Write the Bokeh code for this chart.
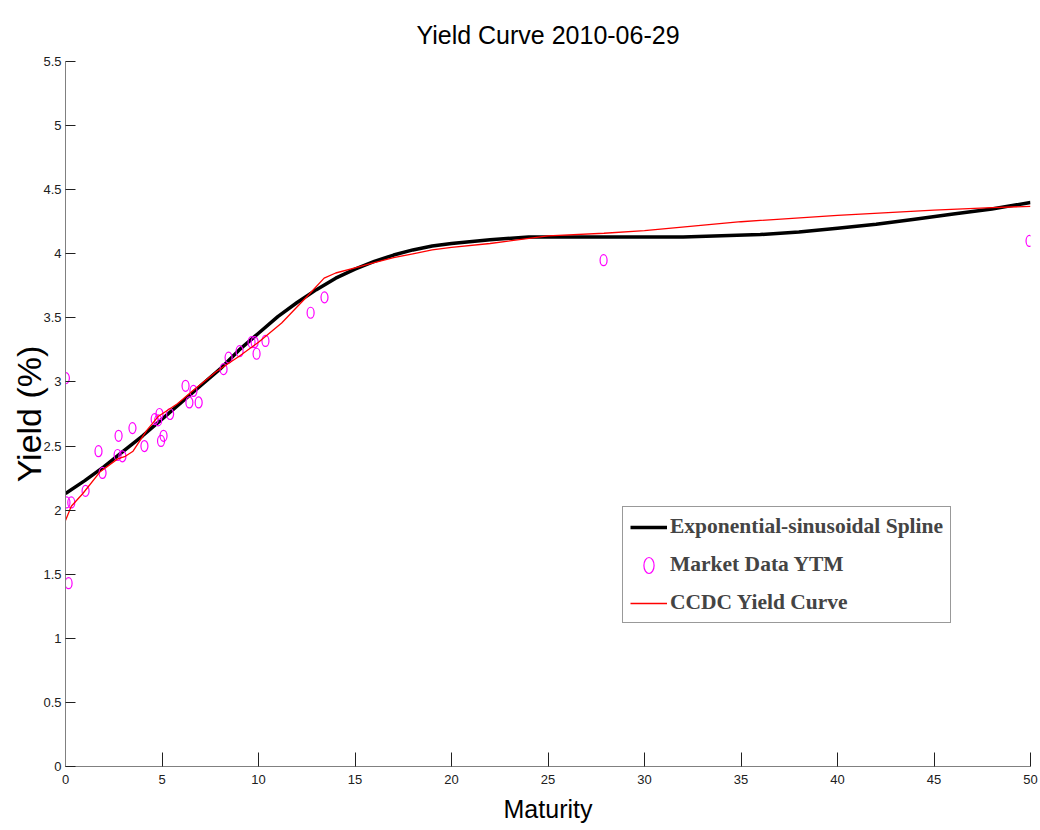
from bokeh.plotting import figure
from bokeh.models import Range1d, FixedTicker, Legend, LegendItem
from bokeh.embed import file_html
from bokeh.resources import INLINE

# Exponential-sinusoidal spline fit (maturity in years, yield in %)
spline_maturity = [0, 1, 2, 3, 4, 5, 6, 7, 8, 9, 10, 11, 12, 13, 14, 15, 16, 17,
                   18, 19, 20, 22, 24, 26, 28, 30, 32, 34, 36, 38, 40, 42, 44,
                   46, 48, 50]
spline_yield = [2.13, 2.23, 2.34, 2.46, 2.58, 2.71, 2.84, 2.97, 3.10, 3.25, 3.38,
                3.51, 3.62, 3.72, 3.81, 3.88, 3.94, 3.99, 4.03, 4.06, 4.08, 4.11,
                4.13, 4.13, 4.13, 4.13, 4.13, 4.14, 4.15, 4.17, 4.20, 4.23, 4.27,
                4.31, 4.35, 4.40]

# CCDC benchmark curve
ccdc_maturity = [0, 0.3, 0.9, 1.8, 2.7, 3.1, 3.5, 4.2, 4.8, 5.8, 6.5, 7.8, 9.0,
                 10.0, 11.2, 12.6, 13.4, 14.0, 15.0, 16.0, 17.0, 18.0, 19.0, 20.0,
                 22.0, 25.0, 27.9, 30.0, 35.0, 40.0, 45.0, 48.0, 50.0]
ccdc_yield = [1.92, 2.03, 2.13, 2.30, 2.40, 2.42, 2.46, 2.62, 2.73, 2.83, 2.92,
              3.08, 3.20, 3.31, 3.46, 3.68, 3.81, 3.85, 3.89, 3.93, 3.97, 4.00,
              4.03, 4.05, 4.08, 4.14, 4.16, 4.18, 4.25, 4.30, 4.34, 4.36, 4.37]

# Observed bond yields to maturity
market_maturity = [0.02, 0.05, 0.16, 0.30, 1.04, 1.71, 1.92, 2.70, 2.75, 2.95,
                   3.47, 4.09, 4.62, 4.80, 4.87, 4.95, 5.08, 5.42, 6.22, 6.42,
                   6.63, 6.90, 8.19, 8.45, 9.02, 9.64, 9.80, 9.90, 10.36, 12.70,
                   13.42, 27.88, 49.95]
market_ytm = [3.03, 2.06, 1.43, 2.06, 2.15, 2.46, 2.29, 2.43, 2.58, 2.42,
              2.64, 2.50, 2.71, 2.70, 2.75, 2.54, 2.58, 2.75, 2.97, 2.84,
              2.93, 2.84, 3.10, 3.19, 3.24, 3.31, 3.31, 3.22, 3.32, 3.54,
              3.66, 3.95, 4.10]

x_ticks = [0, 5, 10, 15, 20, 25, 30, 35, 40, 45, 50]
y_ticks = [0, 0.5, 1, 1.5, 2, 2.5, 3, 3.5, 4, 4.5, 5, 5.5]
y_tick_labels = ["0", "0.5", "1", "1.5", "2", "2.5", "3", "3.5", "4", "4.5", "5", "5.5"]

SANS = "Liberation Sans"

p = figure(width=1040, height=830, output_backend="svg", toolbar_location=None,
           x_range=Range1d(0, 50), y_range=Range1d(0, 5.5),
           min_border_left=65, min_border_right=10,
           min_border_top=61, min_border_bottom=64,
           title="Yield Curve 2010-06-29")

p.title.align = "center"
p.title.text_font = SANS
p.title.text_font_size = "25px"
p.title.text_font_style = "normal"
p.title.text_color = "black"
p.title.standoff = 25

p.outline_line_color = None
p.xgrid.grid_line_color = None
p.ygrid.grid_line_color = None
p.background_fill_color = "white"
p.border_fill_color = "white"

for ax in (p.xaxis[0], p.yaxis[0]):
    ax.axis_line_color = "#808080"
    ax.axis_line_width = 1
    ax.major_tick_line_color = "#202020"
    ax.major_tick_out = 0
    ax.minor_tick_line_color = None
    ax.major_label_text_font = SANS
    ax.major_label_text_font_size = "13px"
    ax.major_label_text_color = "#202020"
    ax.axis_label_text_font_style = "normal"
    ax.axis_label_text_color = "black"

p.xaxis.ticker = FixedTicker(ticks=x_ticks)
p.xaxis.major_tick_in = 14
p.xaxis.major_label_standoff = 8
p.xaxis.axis_label = "Maturity"
p.xaxis.axis_label_text_font = SANS
p.xaxis.axis_label_text_font_size = "25px"
p.xaxis.axis_label_standoff = 8

p.yaxis.ticker = FixedTicker(ticks=y_ticks)
p.yaxis.major_label_overrides = {t: s for t, s in zip(y_ticks, y_tick_labels)}
p.yaxis.major_tick_in = 10
p.yaxis.major_label_standoff = 4
p.yaxis.axis_label = "Yield (%)"
p.yaxis.axis_label_text_font = SANS
p.yaxis.axis_label_text_font_size = "34px"
p.yaxis.axis_label_standoff = -8

spline = p.line(spline_maturity, spline_yield, line_color="black", line_width=3.5)
market = p.ellipse(market_maturity, market_ytm, width=7, height=11,
                   width_units="screen", height_units="screen",
                   fill_color=None, line_color="#ff00ff", line_width=1.2)
ccdc = p.line(ccdc_maturity, ccdc_yield, line_color="#ff0000", line_width=1.3)

legend = Legend(items=[
    LegendItem(label="Exponential-sinusoidal Spline", renderers=[spline]),
    LegendItem(label="Market Data YTM", renderers=[market]),
    LegendItem(label="CCDC Yield Curve", renderers=[ccdc]),
], location=(557, 143))
legend.label_text_font = "Liberation Serif"
legend.label_text_font_style = "bold"
legend.label_text_font_size = "21.5px"
legend.label_standoff = 3
legend.glyph_width = 37
legend.glyph_height = 20
legend.spacing = 13
legend.padding = 7
legend.margin = 0
legend.border_line_color = "#333333"
legend.border_line_width = 1
legend.background_fill_color = "white"
legend.background_fill_alpha = 1
p.add_layout(legend)

open("out.html", "w").write(file_html(p, INLINE))
